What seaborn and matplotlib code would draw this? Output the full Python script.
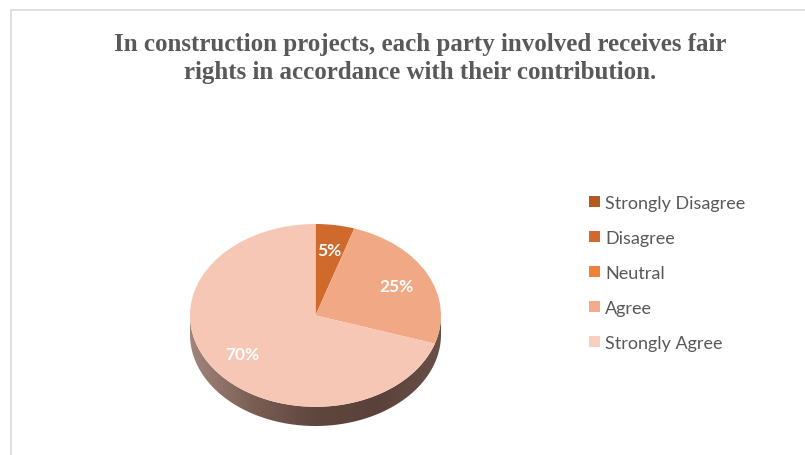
import numpy as np
import matplotlib
matplotlib.use("Agg")
import matplotlib.pyplot as plt
from matplotlib.patches import Polygon, Rectangle
from matplotlib.colors import LinearSegmentedColormap
import seaborn as sns

# Survey responses (share of respondents, %)
categories = ["Strongly Disagree", "Disagree", "Neutral", "Agree", "Strongly Agree"]
shares = [0, 5, 0, 25, 70]
slice_colors = ["#b5591f", "#d06a2c", "#ee8236", "#f1a985", "#f7c7b5"]
legend_colors = ["#b5591f", "#d0692b", "#ee8236", "#f3ab8d", "#f9d0c0"]
title = ("In construction projects, each party involved receives fair\n"
         "rights in accordance with their contribution.")

sns.set_theme(style="white")
plt.rcParams["font.family"] = ["Lato", "DejaVu Sans"]

fig = plt.figure(figsize=(8.05, 4.56), dpi=100)
fig.patch.set_facecolor("white")

# light chart-area border running off the right and bottom edges
fig.add_artist(Rectangle((11 / 805, -0.1), 1.2, 1 - 11 / 456 + 0.1,
                         transform=fig.transFigure, fill=False,
                         edgecolor="#d9d9d9", linewidth=1.2))

fig.text(0.522, 1 - 33 / 456, title, ha="center", va="top",
         family="Liberation Serif", fontweight="bold", fontsize=18,
         color="#595959", linespacing=1.27)

# tilted pie: an axes with non-equal aspect turns the circle into an ellipse
depth = 0.21
ax = fig.add_axes([190 / 805, 29 / 456, 251 / 805, 202 / 456])
ax.set_xlim(-1.0, 1.0)
ax.set_ylim(-1.0 - depth, 1.0)
ax.set_aspect("auto")
ax.axis("off")

# side wall of the disc
t = np.linspace(np.pi, 2 * np.pi, 200)
top_edge = np.column_stack([np.cos(t), np.sin(t)])
bot_edge = np.column_stack([np.cos(t), np.sin(t) - depth])[::-1]
wall = Polygon(np.vstack([top_edge, bot_edge]), closed=True,
               facecolor="none", edgecolor="none")
ax.add_patch(wall)
wall_cmap = LinearSegmentedColormap.from_list(
    "wall", ["#a3847a", "#7a5e54", "#5f463d", "#5a423a", "#6a5047"])
grad = np.linspace(0, 1, 256).reshape(1, -1)
im = ax.imshow(grad, extent=[-1, 1, -1 - depth, 0], cmap=wall_cmap,
               aspect="auto", zorder=1)
im.set_clip_path(wall)


def pct_label(p):
    return f"{p:.0f}%" if p > 0.5 else ""


wedges, _, autotexts = ax.pie(
    shares, colors=slice_colors, startangle=90, counterclock=False,
    radius=1.0, autopct=pct_label, pctdistance=0.72,
    wedgeprops=dict(linewidth=0, zorder=2),
    textprops=dict(color="white", fontweight="bold", fontsize=12.5))
for w in wedges:
    w.set_zorder(2)
for txt in autotexts:
    txt.set_zorder(3)
ax.set_xlim(-1.0, 1.0)
ax.set_ylim(-1.0 - depth, 1.0)
ax.set_aspect("auto")

handles = [Rectangle((0, 0), 1, 1, facecolor=c, edgecolor="none")
           for c in legend_colors]
fig.legend(handles, categories, loc="upper left",
           bbox_to_anchor=(589 / 805, 1 - 196 / 456), frameon=False,
           fontsize=13, labelcolor="#595959", handlelength=0.6,
           handleheight=0.6, handletextpad=0.3, labelspacing=1.05,
           borderpad=0, borderaxespad=0)

fig.savefig("out.png", dpi=100, facecolor="white")
